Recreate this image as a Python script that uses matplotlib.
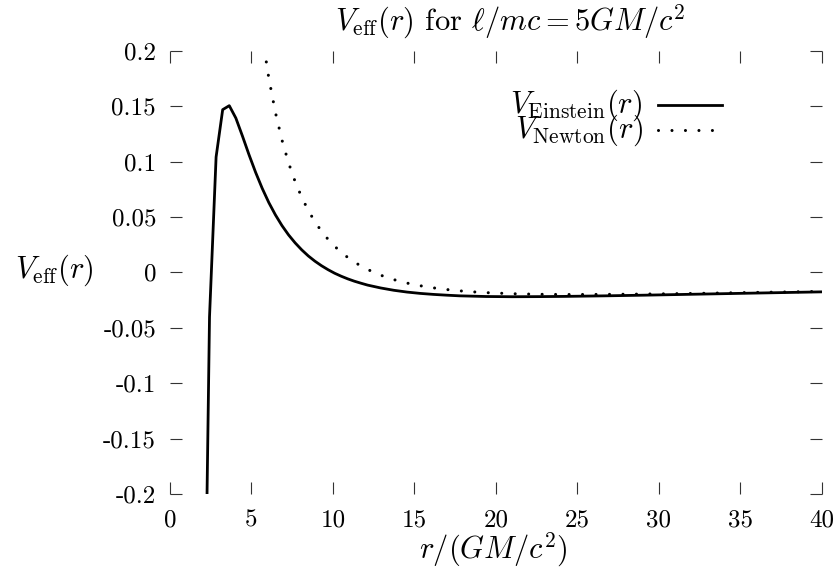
import numpy as np
import matplotlib
matplotlib.use("Agg")
import matplotlib.pyplot as plt

plt.rcParams['mathtext.fontset'] = 'cm'
plt.rcParams['font.family'] = 'serif'
plt.rcParams['font.serif'] = ['cmr10', 'DejaVu Serif']
plt.rcParams['axes.unicode_minus'] = False

# V_Einstein(r) (r in GM/c^2)
r_einstein = [2.020, 2.424, 2.828, 3.232, 3.636, 4.040, 4.444, 4.848, 5.253,
              5.657, 6.061, 6.465, 6.869, 7.273, 7.677, 8.081, 8.485, 8.889,
              9.293, 9.697, 10.101, 10.505, 10.909, 11.313, 11.717, 12.121,
              12.929, 13.737, 14.545, 15.354, 16.162, 16.970, 17.778, 18.586,
              19.394, 21.010, 22.626, 24.242, 26.667, 29.091, 32.323, 35.556,
              40.000]
v_einstein = [-0.4644, -0.0403, 0.1041, 0.1468, 0.1504, 0.1392, 0.1230, 0.1061,
              0.0902, 0.0758, 0.0630, 0.0519, 0.0422, 0.0338, 0.0266, 0.0203,
              0.0148, 0.0101, 0.0060, 0.0024, -0.0008, -0.0035, -0.0059,
              -0.0080, -0.0098, -0.0115, -0.0141, -0.0162, -0.0178, -0.0190,
              -0.0199, -0.0206, -0.0212, -0.0215, -0.0218, -0.0220, -0.0219,
              -0.0217, -0.0212, -0.0206, -0.0197, -0.0188, -0.0176]

# V_Newton(r)
r_newton = [5.657, 6.061, 6.465, 6.869, 7.273, 7.677, 8.081, 8.485, 8.889,
            9.293, 9.697, 10.101, 10.505, 10.909, 11.313, 11.717, 12.121,
            12.929, 13.737, 14.545, 15.354, 16.162, 16.970, 17.778, 18.586,
            19.394, 21.010, 22.626, 24.242, 26.667, 29.091, 32.323, 35.556,
            40.000]
v_newton = [0.2139, 0.1753, 0.1444, 0.1194, 0.0988, 0.0819, 0.0677, 0.0558,
            0.0457, 0.0371, 0.0298, 0.0235, 0.0181, 0.0134, 0.0093, 0.0057,
            0.0026, -0.0026, -0.0066, -0.0097, -0.0121, -0.0140, -0.0155,
            -0.0167, -0.0176, -0.0183, -0.0193, -0.0198, -0.0200, -0.0199,
            -0.0196, -0.0190, -0.0182, -0.0172]

x_ticks = [0, 5, 10, 15, 20, 25, 30, 35, 40]
y_ticks = [-0.2, -0.15, -0.1, -0.05, 0, 0.05, 0.1, 0.15, 0.2]
y_ticklabels = ['-0.2', '-0.15', '-0.1', '-0.05', '0', '0.05', '0.1', '0.15', '0.2']

fs_tick = 18
fs_lab = 22
dotted = (0, (0.01, 4.4))

fig = plt.figure(figsize=(8.37, 5.68), dpi=100)
ax = fig.add_axes([170 / 837, 1 - 494 / 568, 652 / 837, 443.3 / 568])

ax.plot(r_einstein, v_einstein, color='black', lw=2.0)
ax.plot(r_newton, v_newton, color='black', lw=2.2,
        linestyle=dotted, dash_capstyle='round')

ax.set_xlim(0, 40)
ax.set_ylim(-0.2, 0.2)
for s in ax.spines.values():
    s.set_visible(False)

ax.set_xticks(x_ticks)
ax.set_xticklabels([str(t) for t in x_ticks])
ax.set_yticks(y_ticks)
ax.set_yticklabels(y_ticklabels)
ax.tick_params(direction='in', length=8.6, width=0.8, color='#333333',
               top=True, right=True, labelsize=fs_tick)
ax.tick_params(axis='x', pad=11)
ax.tick_params(axis='y', pad=10)

# legend drawn by hand, gnuplot style
ax.text(0.7255, 0.8775, r'$V_{\rm Einstein}(r)$', transform=ax.transAxes,
        ha='right', va='center', fontsize=fs_lab)
ax.text(0.7255, 0.8211, r'$V_{\rm Newton}(r)$', transform=ax.transAxes,
        ha='right', va='center', fontsize=fs_lab)
ax.plot([0.7485, 0.8466], [0.8775, 0.8775], transform=ax.transAxes,
        color='black', lw=2.0)
ax.plot([0.7485, 0.8466], [0.8211, 0.8211], transform=ax.transAxes,
        color='black', lw=2.2, linestyle=dotted, dash_capstyle='round')

fig.text(510 / 837, 1 - 22 / 568, r'$V_{\rm eff}(r)$ for $\ell/mc = 5GM/c^2$',
         ha='center', va='center', fontsize=fs_lab)
fig.text(54 / 837, 1 - 270 / 568, r'$V_{\rm eff}(r)$',
         ha='center', va='center', fontsize=fs_lab)
fig.text(493 / 837, 1 - 550 / 568, r'$r/(GM/c^2)$',
         ha='center', va='center', fontsize=fs_lab)

fig.savefig('out.png', dpi=100)
